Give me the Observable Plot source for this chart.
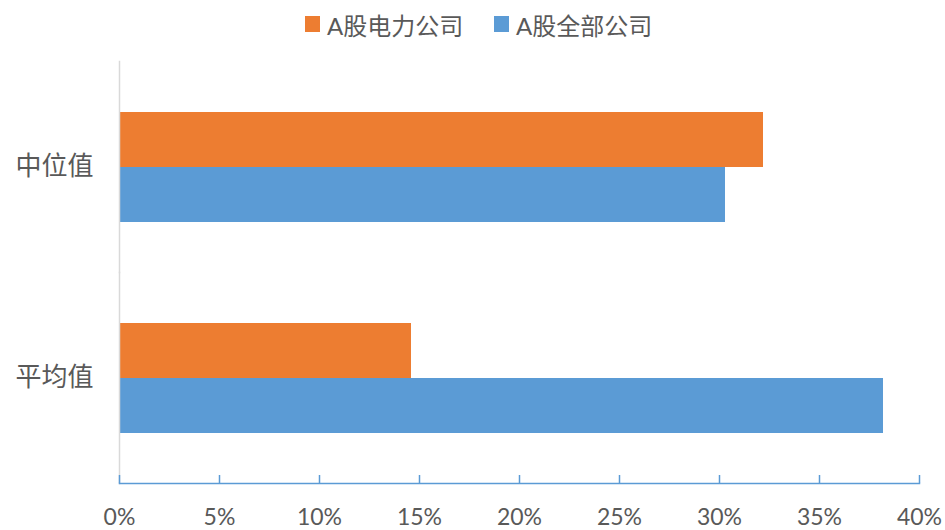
<!DOCTYPE html>
<html><head><meta charset="utf-8">
<script src="https://cdn.jsdelivr.net/npm/d3@7"></script>
<script src="https://cdn.jsdelivr.net/npm/@observablehq/plot@0.6"></script>
<style>
body{margin:0;background:#fff;width:945px;height:530px;overflow:hidden;font-family:Lato,"Noto Sans CJK SC",sans-serif;}
#legend{position:relative;height:50px;}
.item{position:absolute;top:0;display:flex;align-items:center;height:48px;font-size:24px;color:#595959;white-space:nowrap;}
.sw{width:15px;height:16px;margin-right:7px;}
#chart svg{display:block;}
</style></head><body>
<div id="legend"></div><div id="chart"></div>
<script>
const categories = ["中位值", "平均值"];
const series = ["A股电力公司", "A股全部公司"];
const powerValues = [0.322, 0.146];
const allValues = [0.303, 0.382];
const colors = ["#ED7D31", "#5B9BD5"];
const xTicks = [0, 0.05, 0.10, 0.15, 0.20, 0.25, 0.30, 0.35, 0.40];
const xTickLabels = ["0%", "5%", "10%", "15%", "20%", "25%", "30%", "35%", "40%"];

const data = [];
categories.forEach((c, i) => {
  data.push({category: c, series: series[0], value: powerValues[i]});
  data.push({category: c, series: series[1], value: allValues[i]});
});

// legend
const legend = document.getElementById("legend");
const legendLeft = [305, 494];
series.forEach((s, i) => {
  const it = document.createElement("div");
  it.className = "item";
  it.style.left = legendLeft[i] + "px";
  const sw = document.createElement("span");
  sw.className = "sw";
  sw.style.background = colors[i];
  it.appendChild(sw);
  const t = document.createElement("span");
  t.textContent = s;
  it.appendChild(t);
  legend.appendChild(it);
});

const chart = Plot.plot({
  width: 945, height: 480,
  marginTop: 10, marginBottom: 47, marginLeft: 119, marginRight: 26,
  style: {fontFamily: 'Lato, "Noto Sans CJK SC", sans-serif', color: "#595959", background: "#fff"},
  x: {domain: [0, 0.4]},
  y: {domain: series, paddingInner: 0, paddingOuter: 0.905, axis: null},
  fy: {domain: categories, padding: 0},
  color: {domain: series, range: colors},
  marks: [
    Plot.barX(data, {x: "value", y: "series", fy: "category", fill: "series"}),
    Plot.frame({anchor: "left", stroke: "#d9d9d9", strokeWidth: 1.5}),
    Plot.frame({anchor: "bottom", facetAnchor: "bottom", stroke: "#5B9BD5", strokeWidth: 1.5}),
    Plot.axisX({ticks: xTicks, tickFormat: d => xTickLabels[xTicks.indexOf(d)], tickSize: -8, tickPadding: 33,
      stroke: "#5B9BD5", strokeWidth: 1.5, fontSize: 23, fill: "#595959", label: null}),
    Plot.axisFy({anchor: "left", tickSize: 0, tickPadding: 26, fontSize: 26, label: null, fill: "#595959"})
  ]
});
document.getElementById("chart").appendChild(chart);
</script>
</body></html>
